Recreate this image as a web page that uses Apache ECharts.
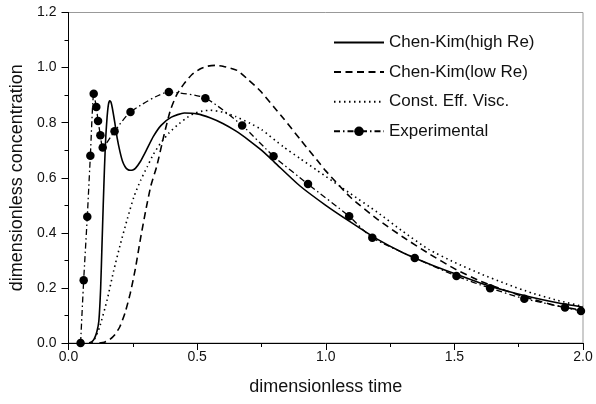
<!DOCTYPE html>
<html>
<head>
<meta charset="utf-8">
<script src="https://cdn.jsdelivr.net/npm/echarts@6/dist/echarts.min.js"></script>
<style>
    html, body { margin: 0; padding: 0; background: #fff; }
    #chart { width: 596px; height: 404px; }
</style>
</head>
<body>
<div id="chart"></div>
<script>
// 数据: [time, concentration]
var highRe = [
    [0.08, 0], [0.09, 0.004], [0.1, 0.015], [0.11, 0.04], [0.118, 0.08], [0.125, 0.2],
    [0.13, 0.35], [0.135, 0.5], [0.14, 0.64], [0.145, 0.75], [0.15, 0.82], [0.155, 0.865],
    [0.16, 0.879], [0.165, 0.875], [0.17, 0.855], [0.18, 0.8], [0.19, 0.74], [0.2, 0.695],
    [0.21, 0.66], [0.22, 0.64], [0.23, 0.63], [0.24, 0.627], [0.25, 0.628], [0.26, 0.634],
    [0.28, 0.66], [0.3, 0.695], [0.33, 0.75], [0.36, 0.79], [0.4, 0.82], [0.45, 0.835],
    [0.5, 0.832], [0.55, 0.818], [0.6, 0.797], [0.65, 0.77], [0.7, 0.737], [0.75, 0.7],
    [0.8, 0.657], [0.9, 0.57], [1.0, 0.5], [1.1, 0.437], [1.2, 0.377], [1.3, 0.328],
    [1.4, 0.288], [1.5, 0.252], [1.6, 0.218], [1.7, 0.19], [1.8, 0.166], [1.9, 0.146], [2.0, 0.13]
];

var lowRe = [
    [0.12, 0], [0.14, 0.003], [0.16, 0.012], [0.18, 0.03], [0.2, 0.06], [0.22, 0.11],
    [0.24, 0.18], [0.26, 0.27], [0.28, 0.38], [0.3, 0.48], [0.32, 0.57], [0.344, 0.645],
    [0.37, 0.75], [0.396, 0.845], [0.42, 0.9], [0.448, 0.94], [0.48, 0.975], [0.513, 0.996],
    [0.54, 1.005], [0.571, 1.008], [0.6, 1.005], [0.655, 0.99], [0.7, 0.955], [0.746, 0.915],
    [0.8, 0.855], [0.836, 0.815], [0.9, 0.74], [0.966, 0.664], [1.0, 0.625], [1.095, 0.53],
    [1.2, 0.45], [1.3, 0.385], [1.4, 0.325], [1.5, 0.27], [1.6, 0.225], [1.7, 0.19],
    [1.8, 0.16], [1.9, 0.135], [2.0, 0.118]
];

var constVisc = [
    [0.09, 0], [0.1, 0.012], [0.12, 0.055], [0.15, 0.156], [0.175, 0.26], [0.202, 0.36],
    [0.23, 0.455], [0.254, 0.53], [0.28, 0.59], [0.306, 0.64], [0.33, 0.685], [0.357, 0.724],
    [0.39, 0.762], [0.422, 0.79], [0.455, 0.815], [0.487, 0.833], [0.52, 0.842], [0.551, 0.845],
    [0.6, 0.838], [0.65, 0.822], [0.707, 0.797], [0.75, 0.775], [0.836, 0.712], [0.9, 0.67],
    [0.966, 0.627], [1.0, 0.605], [1.095, 0.543], [1.2, 0.475], [1.3, 0.405], [1.4, 0.34],
    [1.5, 0.293], [1.6, 0.252], [1.7, 0.215], [1.8, 0.182], [1.9, 0.155], [2.0, 0.133]
];

// 实验点
var expTime = [0.047, 0.059, 0.073, 0.085, 0.098, 0.108, 0.115, 0.124, 0.133, 0.179, 0.241, 0.39,
    0.532, 0.675, 0.797, 0.931, 1.091, 1.181, 1.346, 1.508, 1.639, 1.772, 1.93, 1.992];
var expConc = [0, 0.228, 0.458, 0.68, 0.905, 0.857, 0.806, 0.754, 0.71, 0.769, 0.839, 0.911,
    0.889, 0.79, 0.678, 0.577, 0.46, 0.382, 0.309, 0.243, 0.199, 0.161, 0.129, 0.116];

var xTicks = [0, 0.5, 1.0, 1.5, 2.0];
var yTicks = [0, 0.2, 0.4, 0.6, 0.8, 1.0, 1.2];

var legendNames = ['Chen-Kim(high Re)', 'Chen-Kim(low Re)', 'Const. Eff. Visc.', 'Experimental'];

var myChart = echarts.init(document.getElementById('chart'), null, {renderer: 'canvas'});

// 简单工具
function $each(arr, fn) { for (var i = 0; i < arr.length; i++) fn(i, arr[i]); }
function merge(target, src) {
    for (var key in src) {
        var v = src[key];
        if (v && typeof v === 'object' && !Array.isArray(v)) {
            target[key] = merge(target[key] && typeof target[key] === 'object' ? target[key] : {}, v);
        } else {
            target[key] = v;
        }
    }
    return target;
}

function getOptions() {
    var expData = [];
    $each(expTime, function(i, t) { expData.push([t, expConc[i]]); });

    var font = 'Liberation Sans, Arial, sans-serif';
    function axisCommon() {
        return {
            axisLine: {lineStyle: {color: '#000', width: 1}},
            axisTick: {show: true, inside: false, length: 7, lineStyle: {color: '#000'}},
            minorTick: {show: true, splitNumber: 2, length: 4, lineStyle: {color: '#000'}},
            splitLine: {show: false},
            axisLabel: {color: '#111', fontSize: 14, fontFamily: font,
                formatter: function(v) { return v.toFixed(1); }},
            nameLocation: 'middle',
            nameTextStyle: {color: '#111', fontSize: 18, fontFamily: font}
        };
    }

    var option = {
        backgroundColor: '#fff',
        animation: false,
        grid: {
            show: true,
            left: 68.5, right: 13, top: 12.5, bottom: 61,
            borderColor: '#999', borderWidth: 1
        },
        legend: {
            orient: 'vertical',
            left: 333, top: 34,
            itemWidth: 50, itemHeight: 12, itemGap: 12.6,
            padding: 0,
            textStyle: {color: '#111', fontSize: 17, fontFamily: font},
            data: legendNames
        },
        xAxis: merge(axisCommon(), {
            type: 'value', min: xTicks[0], max: xTicks[xTicks.length - 1], interval: 0.5,
            axisLabel: {margin: 7},
            name: 'dimensionless time', nameGap: 35
        }),
        yAxis: merge(axisCommon(), {
            type: 'value', min: yTicks[0], max: yTicks[yTicks.length - 1], interval: 0.2,
            axisLabel: {margin: 12},
            name: 'dimensionless concentration', nameGap: 31
        }),
        series: [
            {
                name: legendNames[0], type: 'line', data: highRe, symbol: 'none', smooth: 0.2,
                itemStyle: {color: 'rgba(0,0,0,0)'},
                lineStyle: {color: '#000', width: 1.6, type: 'solid'}
            }, {
                name: legendNames[1], type: 'line', data: lowRe, symbol: 'none', smooth: 0.2,
                itemStyle: {color: 'rgba(0,0,0,0)'},
                lineStyle: {color: '#000', width: 1.6, type: [7, 4.5]}
            }, {
                name: legendNames[2], type: 'line', data: constVisc, symbol: 'none', smooth: 0.2,
                itemStyle: {color: 'rgba(0,0,0,0)'},
                lineStyle: {color: '#000', width: 1.6, type: [1.5, 3.5]}
            }, {
                name: legendNames[3], type: 'line', data: expData, smooth: 0.2,
                symbol: 'circle', symbolSize: 8.5, showSymbol: true, clip: false,
                itemStyle: {color: '#000'},
                lineStyle: {color: '#000', width: 1.3, type: [6, 3, 1.5, 3]}
            }
        ]
    };
    return option;
}

myChart.setOption(getOptions(), true);
</script>
</body>
</html>
